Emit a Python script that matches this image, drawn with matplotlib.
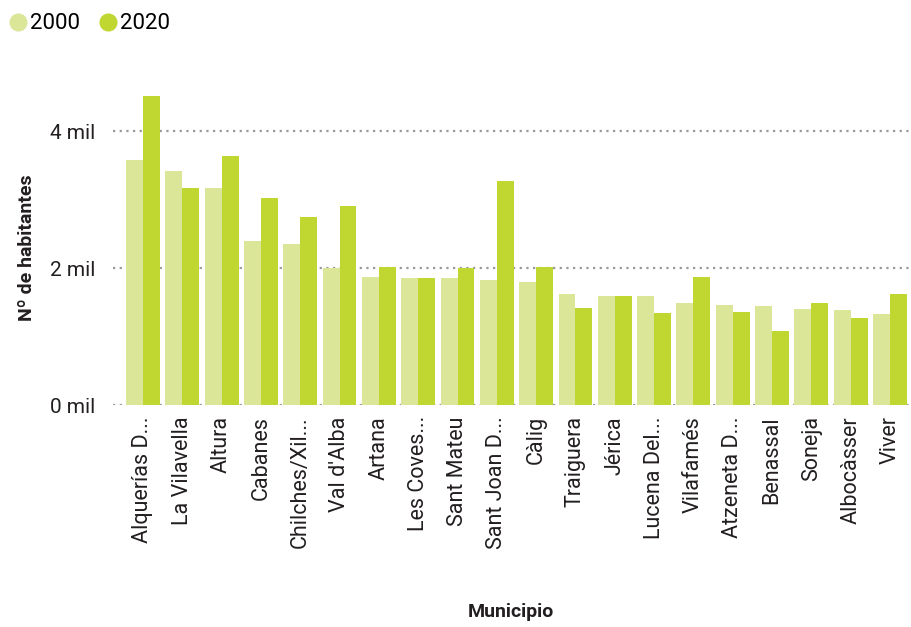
# Población por municipio: 2000 vs 2020
import numpy as np
import matplotlib.pyplot as plt
from matplotlib.lines import Line2D

plt.rcParams['font.family'] = ['Roboto', 'DejaVu Sans']

municipios = ['Alquerías D...', 'La Vilavella', 'Altura', 'Cabanes',
              'Chilches/Xil...', "Val d'Alba", 'Artana', 'Les Coves...',
              'Sant Mateu', 'Sant Joan D...', 'Càlig', 'Traiguera', 'Jérica',
              'Lucena Del...', 'Vilafamés', 'Atzeneta D...', 'Benassal',
              'Soneja', 'Albocàsser', 'Viver']
pob_2000 = [3580, 3415, 3170, 2395, 2350, 2005, 1870, 1855, 1855, 1825,
            1795, 1620, 1590, 1590, 1490, 1460, 1445, 1400, 1385, 1330]
pob_2020 = [4510, 3170, 3635, 3020, 2745, 2905, 2015, 1855, 2005, 3270,
            2015, 1415, 1590, 1345, 1870, 1360, 1080, 1490, 1270, 1620]
yticks = [0, 2000, 4000]
ytick_labels = ['0 mil', '2 mil', '4 mil']

color_2000 = '#dce699'
color_2020 = '#bfd730'
text_color = '#231f20'

fig = plt.figure(figsize=(9.12, 6.27), dpi=100)
ax = fig.add_axes([0.124, 0.354, 0.876, 0.502])

x = np.arange(len(municipios))
width = 0.43
ax.bar(x - width / 2, pob_2000, width, color=color_2000, zorder=2)
ax.bar(x + width / 2, pob_2020, width, color=color_2020, zorder=2)

ax.set_xlim(-0.76, 19.56)
ax.set_ylim(0, 4600)

# dotted gridlines
ax.set_yticks(yticks)
ax.set_yticklabels(ytick_labels, fontsize=15, color=text_color)
ax.yaxis.grid(True, linestyle=(0, (1, 2)), color='#999999', linewidth=1.6,
              zorder=1)
ax.tick_params(axis='y', length=0, pad=13)

ax.set_xticks(x)
ax.set_xticklabels(municipios, rotation=90, fontsize=15.5, color=text_color)
ax.tick_params(axis='x', length=0, pad=8)

for side in ['top', 'right', 'left', 'bottom']:
    ax.spines[side].set_visible(False)

ax.set_ylabel('Nº de habitantes', fontsize=14, fontweight='bold',
              color=text_color, labelpad=10)
fig.text(0.56, 0.01, 'Municipio', fontsize=14, fontweight='bold',
         color=text_color, ha='center', va='bottom')

# legend in the top left corner
handles = [Line2D([], [], marker='o', linestyle='', markersize=12,
                  color=color_2000, label='2000'),
           Line2D([], [], marker='o', linestyle='', markersize=12,
                  color=color_2020, label='2020')]
fig.legend(handles=handles, loc='upper left', bbox_to_anchor=(-0.009, 1.0),
           ncol=2, frameon=False, fontsize=16, handletextpad=-0.1,
           columnspacing=0.7, handlelength=1.2, borderaxespad=0.2)

fig.savefig('out.png', dpi=100)
